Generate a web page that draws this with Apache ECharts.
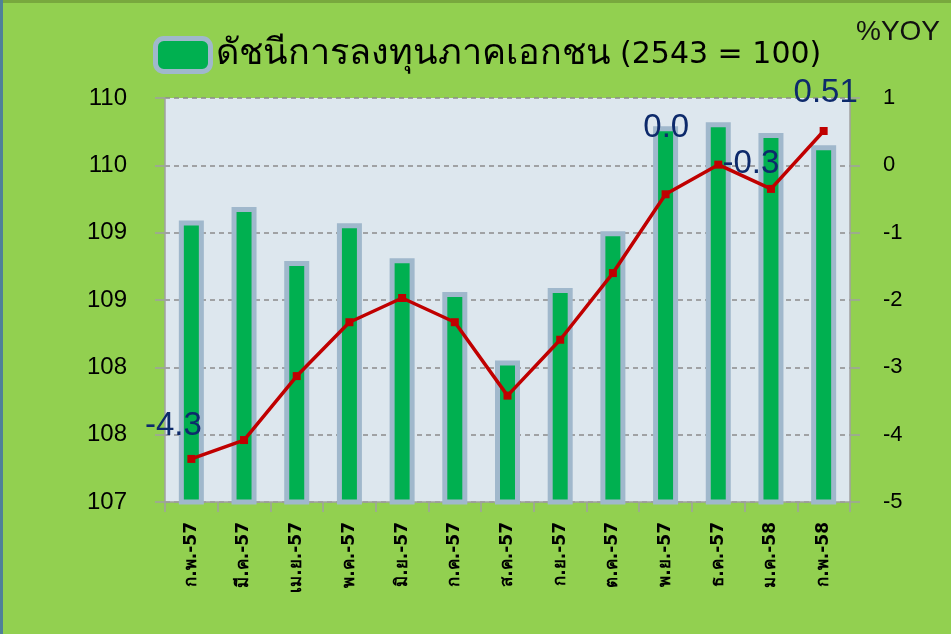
<!DOCTYPE html>
<html>
<head>
<meta charset="utf-8">
<script src="https://cdn.jsdelivr.net/npm/echarts@6/dist/echarts.min.js"></script>
<style>
html,body{margin:0;padding:0;background:#92D050;}
#chart{width:951px;height:634px;}
</style>
</head>
<body>
<div id="chart"></div>
<script>
const categories = ['ก.พ.-57','มี.ค.-57','เม.ย.-57','พ.ค.-57','มิ.ย.-57','ก.ค.-57','ส.ค.-57','ก.ย.-57','ต.ค.-57','พ.ย.-57','ธ.ค.-57','ม.ค.-58','ก.พ.-58'];
const indexValues = [109.09,109.19,108.79,109.07,108.81,108.56,108.05,108.59,109.01,109.79,109.82,109.74,109.65];
const yoyValues = [-4.36,-4.08,-3.13,-2.33,-1.97,-2.33,-3.42,-2.59,-1.60,-0.43,0.01,-0.35,0.51];
const yoyLabels = ['-4.3','','','','','','','','','','0.0','-0.3','0.51'];
const leftTickLabels = ['107','108','108','109','109','110','110'];
const rightTickLabels = ['-5','-4','-3','-2','-1','0','1'];
const seriesTitleThai = 'ดัชนีการลงทุนภาคเอกชน';
const seriesTitleBase = '(2543 = 100)';
const seriesName = seriesTitleThai + ' ' + seriesTitleBase;

const labelOffsets = {0:[-18,-8],10:[-52,-11],11:[-20,1],12:[2,-13]};

const chart = echarts.init(document.getElementById('chart'));
const FONT = "'Liberation Sans', Arial, sans-serif";
const DJ = "'DejaVu Sans', sans-serif";

const lineData = yoyValues.map((v,i)=>{
  const item = {value:v};
  if (yoyLabels[i]) {
    item.label = {show:true, position:'top', offset: labelOffsets[i] || [0,0],
      formatter: yoyLabels[i], fontSize:33, color:'#0D2A6B', fontFamily:FONT};
  }
  return item;
});

chart.setOption({
  backgroundColor:'#92D050',
  animation:false,
  textStyle:{fontFamily:FONT},
  graphic:[
    {type:'rect', shape:{x:0,y:0,width:3,height:634}, style:{fill:'#4F8198'}, z:100},
    {type:'rect', shape:{x:0,y:0,width:951,height:3}, style:{fill:'#78A83E'}, z:99},
    {type:'text', left:856, top:18, style:{text:'%YOY', fontSize:28, fill:'#111', fontFamily:FONT}}
  ],
  legend:{
    data:[seriesName],
    left:148, top:31,
    itemWidth:55, itemHeight:33, itemGap:4,
    formatter:()=>'{t|' + seriesTitleThai + '} {n|' + seriesTitleBase + '}',
    textStyle:{fontSize:30, color:'#000', fontFamily:DJ,
      rich:{t:{fontSize:36, fontFamily:DJ, color:'#000'}, n:{fontSize:30, fontFamily:DJ, color:'#000'}}},
    itemStyle:{color:'#00B050', borderColor:'#A0B8CC', borderWidth:5}
  },
  grid:{left:165, right:101, top:98, bottom:132, show:true, backgroundColor:'#DDE7EE', borderWidth:0},
  xAxis:{
    type:'category', data:categories,
    axisLine:{show:true, onZero:false, lineStyle:{color:'#A0A0A0', width:1.5}},
    axisTick:{show:true, length:10, lineStyle:{color:'#A0A0A0', width:1.5}},
    axisLabel:{rotate:90, fontSize:17, fontWeight:'bold', color:'#000', margin:20, interval:0, fontFamily:DJ}
  },
  yAxis:[
    {type:'value', min:107, max:110, interval:0.5, position:'left',
     axisLine:{show:true, lineStyle:{color:'#A0A0A0', width:1.5}},
     axisTick:{show:true, length:10, lineStyle:{color:'#A0A0A0', width:1.5}},
     axisLabel:{fontSize:24, color:'#000', margin:38,
       formatter:(v)=>leftTickLabels[Math.round((v-107)/0.5)]},
     splitLine:{show:true, lineStyle:{color:'#8C8C8C', type:[5,4], width:1.5}}
    },
    {type:'value', min:-5, max:1, interval:1, position:'right',
     axisLine:{show:true, lineStyle:{color:'#A0A0A0', width:1.5}},
     axisTick:{show:true, length:10, lineStyle:{color:'#A0A0A0', width:1.5}},
     axisLabel:{fontSize:22, color:'#000', margin:33,
       formatter:(v)=>rightTickLabels[Math.round(v+5)]},
     splitLine:{show:false}
    }
  ],
  series:[
    {name:seriesName, type:'bar', yAxisIndex:0, data:indexValues, barWidth:25,
     itemStyle:{color:'#00B050', borderColor:'#A0B8CC', borderWidth:5}},
    {name:'%YOY', type:'line', yAxisIndex:1, data:lineData, z:5,
     lineStyle:{color:'#C00000', width:3.5},
     itemStyle:{color:'#C00000'},
     symbol:'rect', symbolSize:8, showAllSymbol:true}
  ]
});
</script>
</body>
</html>
